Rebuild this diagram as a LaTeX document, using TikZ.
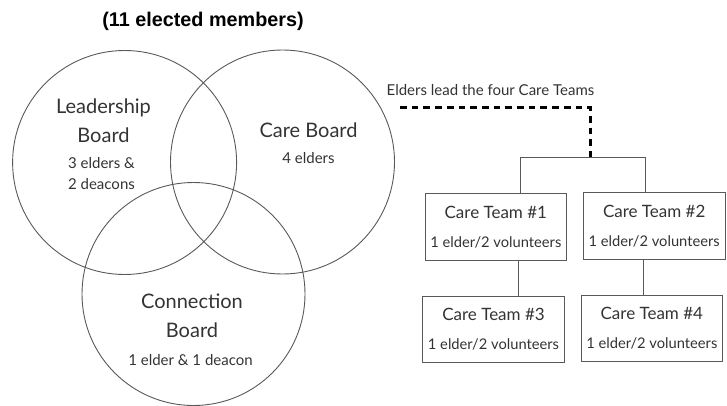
\documentclass[tikz,border=0pt]{standalone}
\usepackage{fontspec}
\setmainfont{Lato}
\newfontfamily\titlefont{Liberation Sans}
\usetikzlibrary{positioning}
\newcommand{\teamname}[1]{{\fontsize{17}{29}\selectfont #1}}

\begin{document}
\begin{tikzpicture}[x=1pt,y=-1pt,inner sep=0pt,
  ring/.style={draw=black!65,line width=0.9pt},
  big/.style={font=\fontsize{20}{29}\selectfont,text=black!80,align=center},
  small/.style={font=\fontsize{15}{21}\selectfont,text=black!80,align=center},
  team/.style={draw=black!65,line width=0.9pt,minimum width=141.7pt,minimum height=66.7pt,
    font=\fontsize{14.7}{29}\selectfont,text=black!80,align=center},
  link/.style={draw=black!65,line width=0.9pt},
  lead/.style={line width=3.3pt,dash pattern=on 6.7pt off 5pt}]

\useasboundingbox (0,0) rectangle (727,406);

% the three boards
\draw [ring] (124.6,162.5) circle (112);
\draw [ring] (282.5,162) circle (112);
\draw [ring] (193.5,294) circle (111.5);

\node [font=\titlefont\bfseries\fontsize{19.8}{22}\selectfont] (title) at (203,21) {(11 elected members)};

\node [big] (leadship) at (103.5,120.5) {Leadership\\Board};
\node [small] (leadnum) at (101.5,173.5) {3 elders \&\\2 deacons};
\node [big] (care) at (308.5,130) {Care Board};
\node [small] (carenum) at (308.5,158) {4 elders};
\node [big] (conn) at (192,316) {Connection\\Board};
\node [small] (connnum) at (190.5,360) {1 elder \& 1 deacon};

% care teams
\node [small] (note) at (490.5,90) {Elders lead the four Care Teams};

\node [team] (t1) at (495.8,226.7) {\teamname{Care Team \#1}\\1 elder/2 volunteers};
\node [team] (t2) at (654.2,226) {\teamname{Care Team \#2}\\1 elder/2 volunteers};
\node [team] (t3) at (493.5,329.3) {\teamname{Care Team \#3}\\1 elder/2 volunteers};
\node [team] (t4) at (651.8,328.3) {\teamname{Care Team \#4}\\1 elder/2 volunteers};

\coordinate (dashstart) at (400,107.7);
\coordinate (split) at (590.7,157.7);
\coordinate (forkL) at (520.7,157.7);
\coordinate (forkR) at (645,157.7);

\draw [lead] (dashstart) -| (split);
\draw [link] (t1.north -| forkL) -- (forkL) -- (forkR) -- (t2.north -| forkR);
\draw [link] ([xshift=22.5pt]t1.south) -- ([xshift=22.5pt]t1.south |- t3.north);
\draw [link] ([xshift=-10.9pt]t2.south) -- ([xshift=-10.9pt]t2.south |- t4.north);

\end{tikzpicture}
\end{document}
